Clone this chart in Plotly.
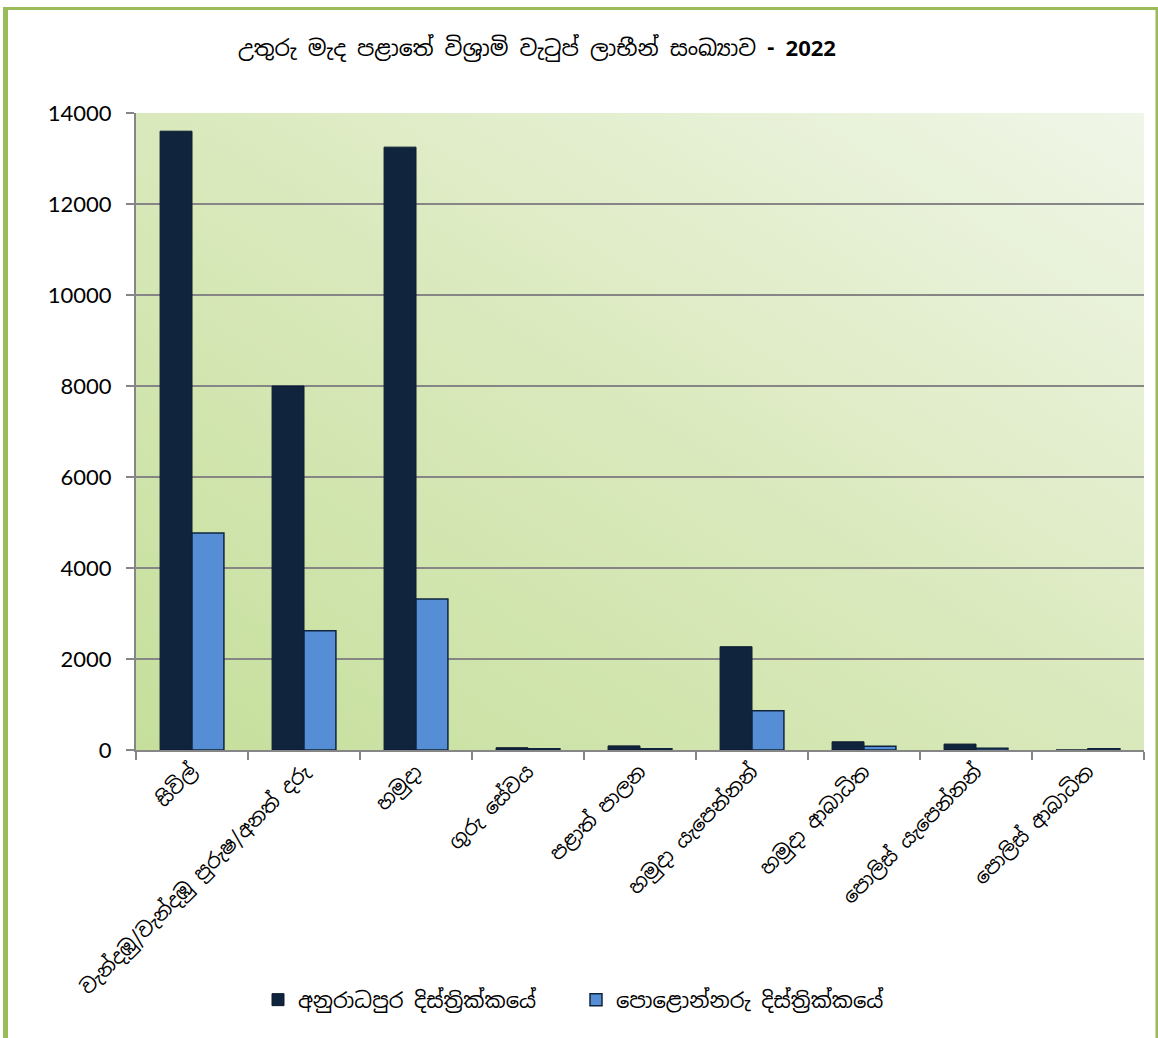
import base64
import plotly.graph_objects as go

categories = [
    "සිවිල්",
    "වැන්දඹු/වැන්දඹු පුරුෂ/අනත් දරු",
    "හමුදා",
    "ගුරු සේවය",
    "පළාත් පාලන",
    "හමුදා යැපෙන්නන්",
    "හමුදා ආබාධිත",
    "පොලිස් යැපෙන්නන්",
    "පොලිස් ආබාධිත",
]
anuradhapura = [13600, 8000, 13250, 50, 90, 2270, 180, 130, 0]
polonnaruwa = [4770, 2620, 3320, 25, 25, 860, 85, 40, 25]
series_names = ["අනුරාධපුර දිස්ත්‍රික්කයේ", "පොළොන්නරු දිස්ත්‍රික්කයේ"]
title_text = "උතුරු මැද පළාතේ විශ්‍රාමි වැටුප් ලාභීන් සංඛ්‍යාව <b>- 2022</b>"
y_ticks = [0, 2000, 4000, 6000, 8000, 10000, 12000, 14000]

SIN = "Noto Sans Sinhala, Iskoola Pota, Nirmala UI, Lato, Noto Sans, sans-serif"
NUM = "Lato, Carlito, Calibri, Noto Sans, sans-serif"

W, H = 1158, 1038
L, R, T, B = 136, 14, 113, 288
PW, PH = W - L - R, H - T - B


def px(x):
    return (x - L) / PW


def py(y):
    return (H - B - y) / PH


svg = (
    '<svg xmlns="http://www.w3.org/2000/svg" width="100" height="100" preserveAspectRatio="none">'
    '<defs><linearGradient id="g" x1="0" y1="1" x2="1" y2="0">'
    '<stop offset="0" stop-color="#C5DF9B"/>'
    '<stop offset="0.5" stop-color="#DAE9BC"/>'
    '<stop offset="1" stop-color="#F0F6E8"/>'
    '</linearGradient></defs>'
    '<rect width="100" height="100" fill="url(#g)"/></svg>'
)
bg_src = "data:image/svg+xml;base64," + base64.b64encode(svg.encode()).decode()

fig = go.Figure()
fig.add_trace(go.Bar(
    x=categories, y=anuradhapura, name=series_names[0],
    marker=dict(color="#10243E", line=dict(color="#0B1A2E", width=1)),
))
fig.add_trace(go.Bar(
    x=categories, y=polonnaruwa, name=series_names[1],
    marker=dict(color="#558ED5", line=dict(color="#10243E", width=1.5)),
))

shapes = [
    dict(type="rect", xref="paper", yref="paper", x0=px(3), x1=px(8), y0=py(H + 5), y1=py(7),
         fillcolor="#9BBB59", line=dict(width=0), layer="above"),
    dict(type="rect", xref="paper", yref="paper", x0=px(3), x1=px(W + 2), y0=py(10), y1=py(7),
         fillcolor="#9BBB59", line=dict(width=0), layer="above"),
    dict(type="rect", xref="paper", yref="paper", x0=px(1155.5), x1=px(W + 2), y0=py(H + 5), y1=py(7),
         fillcolor="#9BBB59", line=dict(width=0), layer="above"),
]

fig.update_layout(
    width=W, height=H,
    margin=dict(l=L, r=R, t=T, b=B, autoexpand=False),
    paper_bgcolor="white",
    plot_bgcolor="rgba(0,0,0,0)",
    barmode="group",
    bargap=0.43,
    bargroupgap=0,
    title=dict(text=title_text, x=537 / W, xanchor="center", y=1 - 48 / H, yanchor="middle",
               font=dict(family=SIN, size=22, color="black")),
    images=[dict(source=bg_src, xref="paper", yref="paper", x=0, y=1, sizex=1, sizey=1,
                 sizing="stretch", layer="below", xanchor="left", yanchor="top")],
    shapes=shapes,
    legend=dict(orientation="h", x=px(258), xanchor="left", y=py(1000), yanchor="middle",
                font=dict(family=SIN, size=21, color="black"), itemwidth=30,
                bgcolor="rgba(0,0,0,0)", entrywidth=273, entrywidthmode="pixels"),
    showlegend=True,
)
fig.update_xaxes(
    type="category", tickson="boundaries", ticks="outside", ticklen=8, tickwidth=1.5,
    tickcolor="#868686", showline=True, linecolor="#868686", linewidth=2, showgrid=False,
    tickangle=-45, tickfont=dict(family=SIN, size=20, color="black"), zeroline=False,
)
fig.update_yaxes(
    range=[0, 14000], tickvals=y_ticks, tickformat="d", ticks="outside", ticklen=8, tickwidth=1.5,
    tickcolor="#868686", showline=True, linecolor="#868686", linewidth=2,
    showgrid=True, gridcolor="#868686", gridwidth=1.5, zeroline=False,
    tickfont=dict(family=NUM, size=22, color="black"), ticklabelstandoff=10,
)
fig.write_html("out.html", config={"displayModeBar": False},
               post_script="document.body.style.margin='0px';document.body.style.overflow='hidden';")
